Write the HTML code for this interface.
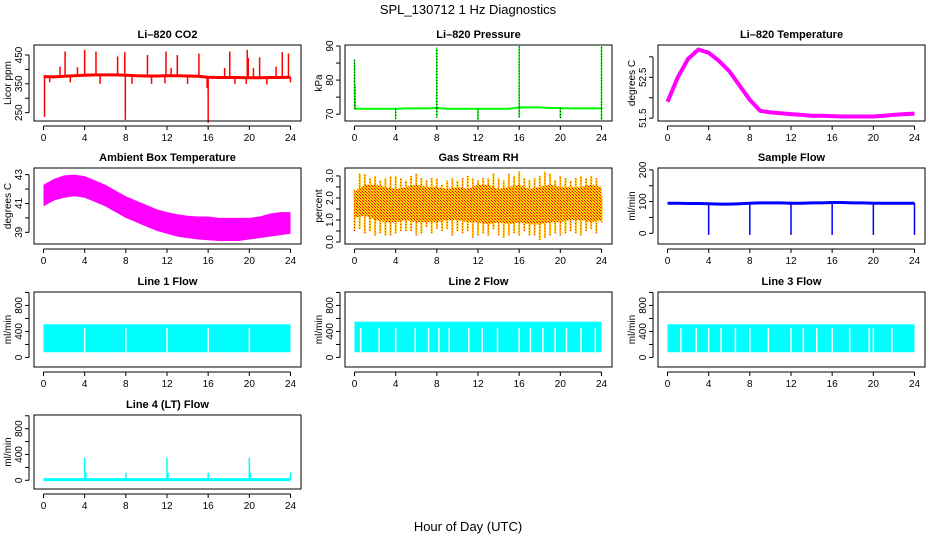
<!DOCTYPE html>
<html><head><meta charset="utf-8"><style>
html,body{margin:0;padding:0;background:#fff;}
svg text{font-family:"Liberation Sans",sans-serif;fill:#000;}
</style></head><body>
<svg id="chart" width="936" height="540" viewBox="0 0 936 540" xmlns="http://www.w3.org/2000/svg">
<defs>
<pattern id="rhpat" width="3" height="3" patternUnits="userSpaceOnUse">
<rect width="3" height="3" fill="#ffd000"/><rect x="0" y="0" width="1" height="1" fill="#f00"/><rect x="2" y="2" width="1" height="1" fill="#f00"/><rect x="1" y="1" width="1" height="1" fill="#ff8000"/>
</pattern>
</defs>
<text x="468" y="14" font-size="13" text-anchor="middle">SPL_130712  1 Hz Diagnostics</text>
<text x="468" y="531" font-size="13" text-anchor="middle">Hour of Day (UTC)</text>
</svg>
<script>
const hours=[0,1,2,3,4,5,6,7,8,9,10,11,12,13,14,15,16,17,18,19,20,21,22,23,24];
const xTicks=[0,4,8,12,16,20,24];
// CO2
const co2Base=[375,374,376,378,380,381,381,381,380,378,377,377,378,378,377,376,373,372,372,372,371,371,372,372,373];
const co2SpikeT=[2.1,4.0,5.1,7.2,7.9,10.1,11.9,13.0,15.1,18.1,19.8,21.0,23.2,23.8,1.6,3.3,12.4,17.6,19.9,20.4,22.6,0.1,7.95,16.0,0.6,2.6,5.5,8.6,10.5,11.8,14.0,15.9,18.6,19.7,21.7,24.0];
const co2SpikeV=[462,468,462,445,460,450,462,450,455,462,468,442,460,455,410,408,405,405,440,405,410,235,225,215,355,355,350,350,350,352,350,335,350,350,348,355];
// Pressure
const presBase=[71.6,71.6,71.6,71.6,71.6,71.7,71.7,71.7,71.8,71.6,71.6,71.6,71.6,71.6,71.6,71.6,72.0,72.0,72.0,71.8,71.8,71.7,71.7,71.7,71.7];
const presSpikeT=[0,0.05,8,16,24,4,8,12,16,20,24];
const presSpikeV=[86,78.5,89.5,90,90,68.5,69,68.3,69,68.8,68.3];
// Li-820 temperature
const tempVals=[51.9,52.5,52.95,53.18,53.1,52.9,52.65,52.3,51.95,51.68,51.64,51.62,51.6,51.58,51.56,51.56,51.55,51.54,51.54,51.54,51.54,51.56,51.58,51.6,51.61];
// Ambient
const ambUpper=[42.3,42.7,42.95,43.0,42.9,42.6,42.3,41.9,41.5,41.2,40.9,40.6,40.4,40.25,40.15,40.1,40.1,40.0,40.0,40.0,40.0,40.1,40.3,40.4,40.4];
const ambLower=[40.8,41.2,41.4,41.5,41.4,41.1,40.8,40.4,40.0,39.7,39.4,39.1,38.9,38.7,38.6,38.5,38.45,38.4,38.4,38.4,38.5,38.6,38.7,38.8,38.9];
// Gas stream RH (half-hour envelopes)
const rhMax=[2.4,3.1,3.1,2.9,3.0,2.8,2.9,3.0,3.0,2.9,2.8,3.0,3.1,2.9,2.8,2.9,2.9,2.6,2.8,2.9,2.8,2.9,3.0,2.9,2.8,2.9,2.9,3.1,2.9,2.8,3.1,3.0,3.2,2.9,2.8,2.9,3.0,3.2,3.1,2.8,3.0,2.9,2.8,2.9,3.0,2.9,3.0,2.9,2.1];
const rhMin=[0.5,0.6,0.4,0.5,0.3,0.4,0.3,0.3,0.4,0.5,0.5,0.5,0.3,0.4,0.7,0.4,0.6,0.5,0.6,0.3,0.5,0.4,0.5,0.2,0.3,0.4,0.3,0.6,0.3,0.2,0.3,0.4,0.3,0.5,0.3,0.3,0.1,0.2,0.3,0.4,0.3,0.4,0.5,0.4,0.3,0.5,0.6,0.4,0.9];
const rhHi=[2.3,2.6,2.6,2.5,2.4,2.5,2.6,2.5,2.5,2.4,2.5,2.4,2.6,2.6,2.4,2.5,2.6,2.4,2.5,2.6,2.5,2.5,2.5,2.6,2.5];
const rhLo=[1.1,1.2,1.0,0.9,0.9,1.0,0.9,0.9,0.9,1.0,1.0,0.9,0.9,0.8,0.9,0.8,0.9,0.8,0.8,0.9,0.9,1.0,1.0,0.9,1.0];
// Sample flow
const sampBase=[95,95,94,94,93,92,92,93,95,96,96,96,95,95,96,96,97,97,96,96,95,95,95,95,95];
const sampDropT=[4,8,12,16,20,24];
const sampDropV=[-5,-5,-5,-5,-5,-5];
// Line flows
const l1Upper=510, l1Lower=80;
const l1Gaps=[4,8,12,16,20];
const l2Upper=550, l2Lower=80;
const l2Gaps=[0.6,2.4,4.0,5.9,7.2,8.2,9.2,11.1,12.4,13.9,16.0,17.1,18.3,19.5,20.6,22.0,23.4];
const l3Upper=510, l3Lower=80;
const l3Gaps=[1.3,2.8,4.0,5.2,6.6,8.0,9.8,12.0,13.2,14.5,16.0,17.7,19.6,20.0,21.8];
// Line 4
const l4Base=10;
const l4SpikeT=[4,4.1,8,12,12.1,16,20,20.1,24];
const l4SpikeV=[350,120,120,350,120,120,350,120,120];

const NS='http://www.w3.org/2000/svg';
const svg=document.getElementById('chart');
function mk(tag,attrs,parent){const e=document.createElementNS(NS,tag);for(const k in attrs)e.setAttribute(k,attrs[k]);(parent||svg).appendChild(e);return e;}

const colL=[34,345,658], W=267;
const rows=[[45,121],[168,244],[292,367],[415,489]];

function panel(name,title,ylab,col,row,ylo,yhi,yTicks,yLabels){
  const L=colL[col], R=L+W, T=rows[row][0], B=rows[row][1];
  const g=mk('g',{});
  
  
  const xs=h=>L+9.5+h*(247/24);
  const ys=v=>B-(v-ylo)/(yhi-ylo)*(B-T);
  const data=mk('g',{'clip-path':''},g);
  
  
  const box=mk('rect',{x:L,y:T,width:W,height:B-T,fill:'none',stroke:'#000','stroke-width':1},g);
  
  
  const t=mk('text',{x:(L+R)/2,y:T-7,'font-size':11,'font-weight':'bold','text-anchor':'middle'},g);
  t.textContent=title;
  
  
  const yl=mk('text',{x:0,y:0,'font-size':10,'text-anchor':'middle',transform:`translate(${L-23},${(T+B)/2}) rotate(-90)`},g);
  yl.textContent=ylab;
  
  
  // x axis
  mk('line',{x1:xs(0),x2:xs(24),y1:B+5,y2:B+5,stroke:'#000'},g);
  xTicks.forEach(h=>{
    mk('line',{x1:xs(h),x2:xs(h),y1:B+5,y2:B+9,stroke:'#000'},g);
    const tx=mk('text',{x:xs(h),y:B+20,'font-size':10,'text-anchor':'middle'},g);
    tx.textContent=h;
    
    
  });
  // y axis
  mk('line',{x1:L-5,x2:L-5,y1:ys(yTicks[0]),y2:ys(yTicks[yTicks.length-1]),stroke:'#000'},g);
  yTicks.forEach(v=>{
    mk('line',{x1:L-9,x2:L-5,y1:ys(v),y2:ys(v),stroke:'#000'},g);
  });
  yLabels.forEach(v=>{
    const tx=mk('text',{x:0,y:0,'font-size':10,'text-anchor':'middle',transform:`translate(${L-12},${ys(v)}) rotate(-90)`},g);
    tx.textContent=v;
    
    
  });
  return {xs,ys,g:data};
}
function poly(p,xsArr,vals,color,w){
  const d=xsArr.map((h,i)=>(i?'L':'M')+p.xs(h).toFixed(1)+' '+p.ys(vals[i]).toFixed(1)).join(' ');
  return mk('path',{d,fill:'none',stroke:color,'stroke-width':w,'stroke-linejoin':'round'},p.g);
}
function vseg(p,h,v0,v1,color,w,dash){
  const a={x1:p.xs(h),x2:p.xs(h),y1:p.ys(v0),y2:p.ys(v1),stroke:color,'stroke-width':w};
  if(dash)a['stroke-dasharray']=dash;
  return mk('line',a,p.g);
}
function band(p,up,lo,fill,xsArr){
  const top=xsArr.map((h,i)=>p.xs(h).toFixed(1)+','+p.ys(up[i]).toFixed(1));
  const bot=xsArr.map((h,i)=>p.xs(h).toFixed(1)+','+p.ys(lo[i]).toFixed(1)).reverse();
  return mk('polygon',{points:top.concat(bot).join(' '),fill},p.g);
}

// 1 CO2
let p=panel('co2','Li\u2013820 CO2','Licor ppm',0,0,221,484.7,[250,300,350,400,450],[250,350,450]);
poly(p,hours,co2Base,'#f00',3);
co2SpikeT.forEach((h,i)=>{const b=co2Base[Math.min(24,Math.round(h))];const s=vseg(p,h,b,co2SpikeV[i],'#f00',1.5);});
// 2 Pressure
p=panel('pressure','Li\u2013820 Pressure','kPa',1,0,68.0,90.3,[70,75,80,85,90],[70,80,90]);
poly(p,hours,presBase,'#0f0',2);
presSpikeT.forEach((h,i)=>{const b=presBase[Math.min(24,Math.round(h))];vseg(p,h,b,presSpikeV[i],'#0f0',1.5);const s=vseg(p,h,b,presSpikeV[i],'#000',1,'1,2');});
// 3 Li-820 Temp
p=panel('li820-temp','Li\u2013820 Temperature','degrees C',2,0,51.43,53.29,[51.5,52,52.5,53],[51.5,52.5]);
poly(p,hours,tempVals,'#f0f',4);
// 4 Ambient
p=panel('ambient-temp','Ambient Box Temperature','degrees C',0,1,38.19,43.46,[39,40,41,42,43],[39,41,43]);
band(p,ambUpper,ambLower,'#f0f',hours);
// 5 RH
p=panel('gas-rh','Gas Stream RH','percent',1,1,-0.09,3.36,[0,0.5,1,1.5,2,2.5,3],['0.0','1.0','2.0','3.0']);
rhMax.forEach((v,i)=>{const s=vseg(p,i*0.5,rhMin[i],v,'#ffd000',2);vseg(p,i*0.5,rhMin[i],v,'#f00',1,'1,2');});
band(p,rhHi,rhLo,'url(#rhpat)',hours);
// 6 Sample flow
p=panel('sample-flow','Sample Flow','ml/min',2,1,-33.8,206,[0,50,100,150,200],[0,100,200]);
poly(p,hours,sampBase,'#00f',3);
sampDropT.forEach((h,i)=>{const s=vseg(p,h,sampBase[h],sampDropV[i],'#00f',1.5);});
// flows
function flowPanel(name,title,col,row,up,lo,gaps){
  const q=panel(name,title,'ml/min',col,row,-147,1007,[0,200,400,600,800,1000],[0,400,800]);
  const r=mk('rect',{x:q.xs(0),y:q.ys(up),width:q.xs(24)-q.xs(0),height:q.ys(lo)-q.ys(up),fill:'#0ff'},q.g);
  
  
  gaps.forEach(h=>{vseg(q,h,lo,450,'#fff',1.5);});
  return q;
}
flowPanel('line1-flow','Line 1 Flow',0,2,l1Upper,l1Lower,l1Gaps);
flowPanel('line2-flow','Line 2 Flow',1,2,l2Upper,l2Lower,l2Gaps);
flowPanel('line3-flow','Line 3 Flow',2,2,l3Upper,l3Lower,l3Gaps);
// line 4
p=panel('line4-flow','Line 4 (LT) Flow','ml/min',0,3,-135,1012,[0,200,400,600,800,1000],[0,400,800]);
poly(p,[0,24],[l4Base,l4Base],'#0ff',3);
l4SpikeT.forEach((h,i)=>{const s=vseg(p,h,l4Base,l4SpikeV[i],'#0ff',1.5);});
</script>
</body></html>
